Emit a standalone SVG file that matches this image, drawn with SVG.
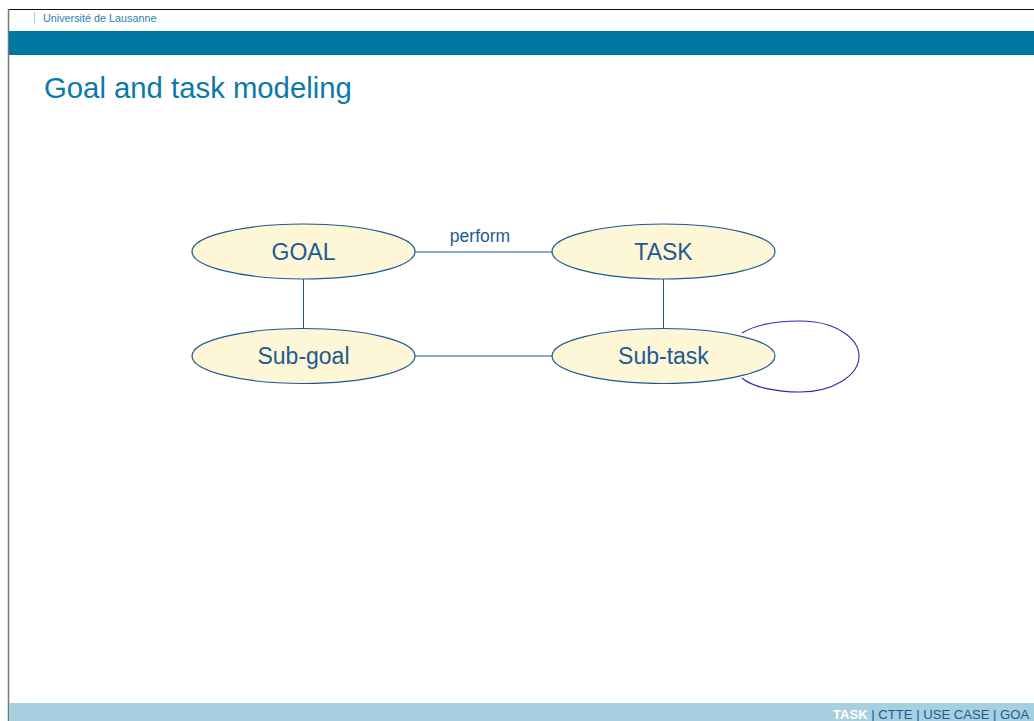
<svg xmlns="http://www.w3.org/2000/svg" width="1034" height="721" viewBox="0 0 1034 721">
<style>
.node ellipse{fill:#fdf6d7;stroke:#1d5a93;stroke-width:1.2}
.node text{font-family:"Liberation Sans",Arial,sans-serif;font-size:23px;fill:#1d5a93;text-anchor:middle}
.conn line{stroke:#1d5a93;stroke-width:1}
.lbl{font-family:"Liberation Sans",Arial,sans-serif;font-size:17.5px;fill:#1d5a93;text-anchor:middle}
</style>
<rect x="0" y="0" width="1034" height="721" fill="#fff"/>
<line x1="8" y1="9.5" x2="1034" y2="9.5" stroke="#111" stroke-width="1"/>
<line x1="8.5" y1="9" x2="8.5" y2="721" stroke="#777" stroke-width="1.5"/>
<line x1="34.5" y1="12" x2="34.5" y2="24" stroke="#a6cfe0" stroke-width="1"/>
<text x="43" y="22" font-family="Liberation Sans,Arial,sans-serif" font-size="10.8" fill="#2a82b0">Université de Lausanne</text>
<rect x="9" y="31" width="1025" height="24" fill="#0077a1"/>
<text x="44" y="98" font-family="Liberation Sans,Arial,sans-serif" font-size="29.3" fill="#0b7aa9">Goal and task modeling</text>
<rect x="9" y="703" width="1025" height="18" fill="#a6cfe0"/>
<text x="833" y="719" font-family="Liberation Sans,Arial,sans-serif" font-size="13.1" fill="#1d5a93"><tspan fill="#fff" font-weight="bold">TASK</tspan> | CTTE | USE CASE | GOA</text>
<g class="conn" id="connectors">
<line x1="415" y1="252" x2="552" y2="252"/>
<line x1="303.5" y1="279" x2="303.5" y2="329"/>
<line x1="663.5" y1="279" x2="663.5" y2="329" stroke="#6a9cc0"/>
<line x1="415" y1="356" x2="552" y2="356"/>
<path d="M742 333 C758 323 782 321 800 321 C838 321 859 340 859 356 C859 376 832 392 800 392 C776 392 752 387 742 378" fill="none" stroke="#2a2ab0" stroke-width="1.1"/>
<text class="lbl" x="480" y="242">perform</text>
</g>
<g class="node" id="goal"><ellipse cx="303.5" cy="251.5" rx="111.5" ry="27.5"/><text x="303.5" y="259.5">GOAL</text></g>
<g class="node" id="task"><ellipse cx="663.5" cy="251.5" rx="111.5" ry="27.5"/><text x="663.5" y="259.5">TASK</text></g>
<g class="node" id="subgoal"><ellipse cx="303.5" cy="356" rx="111.5" ry="27.5"/><text x="303.5" y="364">Sub-goal</text></g>
<g class="node" id="subtask"><ellipse cx="663.5" cy="356" rx="111.5" ry="27.5"/><text x="663.5" y="364">Sub-task</text></g>
</svg>
